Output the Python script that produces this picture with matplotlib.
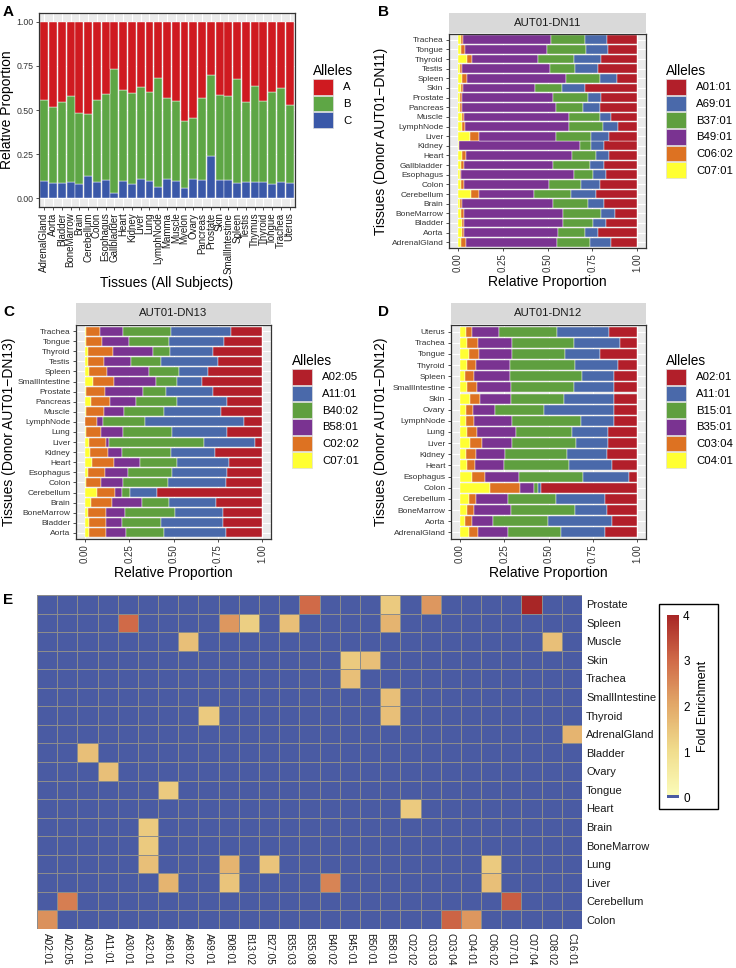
import numpy as np
import matplotlib
matplotlib.use('Agg')
import matplotlib.pyplot as plt
from matplotlib.colors import ListedColormap, LinearSegmentedColormap
from matplotlib.patches import Patch, Rectangle

plt.rcParams['font.family'] = ['Liberation Sans', 'DejaVu Sans']

W, H = 736, 968

# ---- panel A: all subjects, fraction per locus
tissues_all = ['AdrenalGland', 'Aorta', 'Bladder', 'BoneMarrow', 'Brain', 'Cerebellum', 'Colon',
               'Esophagus', 'Gallbladder', 'Heart', 'Kidney', 'Liver', 'Lung', 'LymphNode', 'Mamma',
               'Muscle', 'Myelon', 'Ovary', 'Pancreas', 'Prostate', 'Skin', 'SmallIntestine', 'Spleen',
               'Testis', 'Thymus', 'Thyroid', 'Tongue', 'Trachea', 'Uterus']
all_C = [.098, .087, .087, .089, .079, .126, .092, .104, .028, .098, .079, .108, .096, .062, .106,
         .100, .055, .108, .102, .238, .102, .102, .087, .089, .094, .090, .079, .089, .085]
all_B = [.457, .430, .458, .490, .406, .353, .463, .485, .706, .513, .515, .520, .506, .619, .460,
         .449, .381, .347, .464, .460, .481, .475, .587, .454, .540, .459, .523, .536, .445]
all_A = [.445, .483, .455, .421, .515, .521, .445, .411, .266, .389, .406, .372, .398, .319, .434,
         .451, .564, .545, .434, .302, .417, .423, .326, .457, .366, .451, .398, .375, .470]

# ---- panel B: donor AUT01-DN11 (percent, bottom -> top)
dn11_tissues = ['AdrenalGland', 'Aorta', 'Bladder', 'BoneMarrow', 'Brain', 'Cerebellum', 'Colon',
                'Esophagus', 'Gallbladder', 'Heart', 'Kidney', 'Liver', 'LymphNode', 'Muscle',
                'Pancreas', 'Prostate', 'Skin', 'Spleen', 'Testis', 'Thyroid', 'Tongue', 'Trachea']
dn11_alleles = ['C07:01', 'C06:02', 'B49:01', 'B37:01', 'A69:01', 'A01:01']
dn11_C0701 = [1.9, 2.0, 2.0, 1.7, 1.3, 7.4, 1.7, 0.9, 1.7, 2.4, 0.4, 6.5, 2.0, 2.0, 1.1, 1.3, 1.5, 2.4, 1.3, 4.8, 1.9, 1.7]
dn11_C0602 = [2.4, 1.1, 1.3, 1.9, 1.1, 4.5, 1.5, 0.7, 1.5, 1.9, 0.4, 5.0, 2.0, 1.5, 1.1, 1.1, 1.1, 2.4, 1.1, 3.0, 1.9, 1.3]
dn11_B4901 = [51.2, 52.7, 55.5, 55.3, 50.8, 30.5, 47.9, 63.1, 49.9, 59.6, 67.2, 43.4, 58.1, 58.7, 52.5, 50.7, 40.2, 55.3, 48.8, 36.7, 46.2, 49.2]
dn11_B3701 = [18.4, 15.3, 16.6, 21.0, 19.4, 20.9, 17.9, 10.4, 20.7, 13.4, 6.5, 19.6, 18.6, 16.9, 15.1, 19.6, 15.5, 19.4, 14.0, 20.5, 21.8, 19.0]
dn11_A6901 = [11.7, 7.3, 7.1, 7.8, 8.9, 13.8, 10.2, 7.3, 7.8, 7.1, 6.9, 9.9, 8.4, 6.1, 9.3, 7.4, 12.8, 9.5, 12.8, 14.7, 12.3, 12.3]
dn11_A0101 = [14.3, 21.6, 17.5, 12.3, 18.4, 22.9, 20.9, 17.5, 18.4, 15.6, 18.6, 15.6, 10.8, 14.7, 20.9, 19.9, 28.9, 11.0, 22.0, 20.3, 16.0, 16.6]

# ---- panel C: donor AUT01-DN13
dn13_tissues = ['Aorta', 'Bladder', 'BoneMarrow', 'Brain', 'Cerebellum', 'Colon', 'Esophagus', 'Heart',
                'Kidney', 'Liver', 'Lung', 'LymphNode', 'Muscle', 'Pancreas', 'Prostate',
                'SmallIntestine', 'Spleen', 'Testis', 'Thyroid', 'Tongue', 'Trachea']
dn13_alleles = ['C07:01', 'C02:02', 'B58:01', 'B40:02', 'A11:01', 'A02:05']
dn13_C0701 = [2.3, 2.4, 1.5, 3.6, 6.8, 0.6, 1.5, 4.1, 2.8, 2.1, 0.8, 0.2, 0.4, 3.4, 0.9, 4.7, 2.6, 1.7, 1.5, 0.4, 0.6]
dn13_C0202 = [9.4, 9.8, 10.3, 11.8, 10.2, 8.6, 10.0, 12.4, 10.3, 10.0, 8.1, 6.6, 10.2, 10.9, 10.3, 11.7, 9.6, 9.0, 14.1, 9.0, 7.9]
dn13_B5801 = [11.3, 8.5, 10.9, 16.7, 3.9, 12.4, 13.0, 14.5, 7.9, 1.7, 12.6, 3.2, 11.3, 14.5, 21.4, 23.7, 24.2, 15.6, 22.7, 15.2, 13.2]
dn13_B4002 = [21.6, 22.2, 28.4, 15.2, 4.5, 25.2, 24.6, 21.2, 27.4, 53.4, 27.8, 23.9, 22.7, 23.3, 13.0, 11.8, 16.9, 16.7, 9.8, 22.7, 26.9]
dn13_A1101 = [35.0, 35.0, 26.9, 26.5, 15.4, 32.7, 31.2, 29.3, 25.0, 29.1, 30.8, 55.6, 32.1, 28.0, 26.7, 14.3, 16.0, 32.0, 24.2, 31.0, 33.8]
dn13_A0205 = [20.5, 22.2, 22.0, 26.1, 59.2, 20.5, 19.7, 18.4, 26.5, 3.8, 19.9, 10.5, 23.3, 19.9, 27.6, 33.8, 30.6, 25.0, 27.6, 21.6, 17.7]

# ---- panel D: donor AUT01-DN12
dn12_tissues = ['AdrenalGland', 'Aorta', 'BoneMarrow', 'Cerebellum', 'Colon', 'Esophagus', 'Heart',
                'Kidney', 'Liver', 'Lung', 'LymphNode', 'Ovary', 'Skin', 'SmallIntestine', 'Spleen',
                'Thyroid', 'Tongue', 'Trachea', 'Uterus']
dn12_alleles = ['C04:01', 'C03:04', 'B35:01', 'B15:01', 'A11:01', 'A02:01']
dn12_C0401 = [5.1, 2.8, 3.9, 5.3, 16.9, 7.1, 4.1, 3.6, 5.5, 4.3, 3.4, 3.4, 5.8, 4.3, 3.0, 4.3, 5.3, 4.3, 3.2]
dn12_C0304 = [5.1, 3.8, 3.8, 3.9, 17.3, 7.3, 4.5, 5.3, 7.0, 5.5, 4.3, 3.9, 5.8, 5.6, 4.7, 4.7, 5.3, 6.0, 3.9]
dn12_B3501 = [16.7, 12.0, 21.1, 18.0, 7.7, 19.0, 16.2, 16.4, 16.9, 21.6, 21.4, 12.6, 17.5, 18.8, 20.5, 19.4, 18.8, 19.4, 15.0]
dn12_B1501 = [30.1, 31.0, 35.9, 27.3, 2.1, 36.3, 36.7, 35.2, 35.9, 32.1, 39.1, 27.8, 29.5, 35.5, 40.8, 36.8, 30.1, 35.0, 32.9]
dn12_A1101 = [25.2, 36.1, 18.4, 27.1, 1.9, 25.6, 24.2, 22.4, 18.0, 20.1, 18.4, 39.1, 28.6, 22.6, 18.2, 24.1, 19.4, 25.8, 28.9]
dn12_A0201 = [17.9, 14.3, 16.9, 18.4, 54.1, 4.7, 14.3, 17.3, 16.7, 16.4, 13.3, 13.2, 12.8, 13.2, 12.8, 10.7, 21.2, 9.6, 16.0]

# ---- panel E: fold enrichment heatmap (only non-zero cells listed)
hm_rows = ['Prostate', 'Spleen', 'Muscle', 'Skin', 'Trachea', 'SmallIntestine', 'Thyroid',
           'AdrenalGland', 'Bladder', 'Ovary', 'Tongue', 'Heart', 'Brain', 'BoneMarrow', 'Lung',
           'Liver', 'Cerebellum', 'Colon']
hm_cols = ['A02:01', 'A02:05', 'A03:01', 'A11:01', 'A30:01', 'A32:01', 'A68:01', 'A68:02', 'A69:01',
           'B08:01', 'B13:02', 'B27:05', 'B35:03', 'B35:08', 'B40:02', 'B45:01', 'B50:01', 'B58:01',
           'C02:02', 'C03:03', 'C03:04', 'C04:01', 'C06:02', 'C07:01', 'C07:04', 'C08:02', 'C16:01']
enrich = [('Prostate', 'B35:08', 3.0), ('Prostate', 'B58:01', 1.4), ('Prostate', 'C03:03', 2.3),
          ('Prostate', 'C07:04', 4.0),
          ('Spleen', 'A30:01', 3.0), ('Spleen', 'B08:01', 2.3), ('Spleen', 'B13:02', 1.3),
          ('Spleen', 'B35:03', 1.6), ('Spleen', 'B58:01', 1.8),
          ('Muscle', 'A68:02', 1.6), ('Muscle', 'C08:02', 1.6),
          ('Skin', 'B45:01', 1.4), ('Skin', 'B50:01', 1.6),
          ('Trachea', 'B45:01', 1.6),
          ('SmallIntestine', 'B58:01', 1.6),
          ('Thyroid', 'A69:01', 1.4), ('Thyroid', 'B58:01', 1.6),
          ('AdrenalGland', 'C16:01', 1.8),
          ('Bladder', 'A03:01', 1.6),
          ('Ovary', 'A11:01', 1.6),
          ('Tongue', 'A68:01', 1.4),
          ('Heart', 'C02:02', 1.4),
          ('Brain', 'A32:01', 1.4),
          ('BoneMarrow', 'A32:01', 1.4),
          ('Lung', 'A32:01', 1.6), ('Lung', 'B08:01', 1.8), ('Lung', 'B27:05', 1.5), ('Lung', 'C06:02', 1.4),
          ('Liver', 'A68:01', 1.8), ('Liver', 'B08:01', 1.5), ('Liver', 'B40:02', 2.6), ('Liver', 'C06:02', 1.6),
          ('Cerebellum', 'A02:05', 2.7), ('Cerebellum', 'C07:01', 3.2),
          ('Colon', 'A02:01', 2.4), ('Colon', 'C03:04', 3.1), ('Colon', 'C04:01', 2.3)]

colA = {'A': '#cf1a20', 'B': '#5ea645', 'C': '#3a58a8'}
six_cols = ['#ffff33', '#dd7222', '#7a3391', '#5f9f3f', '#4a69aa', '#b21f2a']


def fig_rect(x0, y0, x1, y1):
    return [x0 / W, 1 - y1 / H, (x1 - x0) / W, (y1 - y0) / H]


def gg(ax):
    ax.set_facecolor('#ebebeb')
    for s in ax.spines.values():
        s.set_color('#333333')
        s.set_linewidth(0.9)
    ax.tick_params(length=2.5, width=0.6, color='#333333', labelcolor='#4d4d4d', pad=1.5)
    ax.set_axisbelow(True)
    ax.grid(True, color='white', lw=0.8)


def strip(rect, text):
    sa = fig.add_axes(rect)
    sa.set_facecolor('#d9d9d9')
    sa.set_xticks([]); sa.set_yticks([])
    for s in sa.spines.values():
        s.set_visible(False)
    sa.text(0.5, 0.5, text, ha='center', va='center', fontsize=8.2, color='#1a1a1a')


def legend(x, y, labels, colors):
    hs = [Patch(facecolor=c, edgecolor='#dddddd', lw=0.5) for c in colors]
    fig.legend(hs, labels, title='Alleles', loc='upper left', bbox_to_anchor=(x / W, 1 - y / H),
               frameon=False, fontsize=8.2, title_fontsize=9.8, handlelength=1.75, handleheight=1.75,
               labelspacing=0.08, handletextpad=0.9, alignment='left', borderpad=0, borderaxespad=0)


def donor_panel(box, sbox, name, tissues, alleles, series, ylabel, ylab_px, lx, ly):
    ax = fig.add_axes(fig_rect(*box))
    gg(ax)
    y = np.arange(len(tissues))
    tot = np.sum(np.array(series), axis=0)   # position = "fill"
    left = np.zeros(len(tissues))
    for vals, c in zip(series, six_cols):
        frac = np.array(vals) / tot
        ax.barh(y, frac, left=left, height=0.9, color=c, edgecolor='white', lw=0.3)
        left += frac
    ax.set_yticks(y)
    ax.set_yticklabels(tissues, fontsize=6.0, color='#333333')
    ax.set_ylim(-0.6, len(tissues) - 0.4)
    ax.set_xlim(-0.05, 1.05)
    ax.set_xticks([0, 0.25, 0.5, 0.75, 1.0])
    ax.set_xticklabels(['0.00', '0.25', '0.50', '0.75', '1.00'], rotation=90, fontsize=7, color='#333333')
    ax.set_xlabel('Relative Proportion', fontsize=10, labelpad=2)
    ax.set_ylabel(ylabel, fontsize=10)
    # y title placed where the reference has it (right edge of the rotated text, in pixels)
    ax.yaxis.set_label_coords((ylab_px - box[0]) / (box[2] - box[0]), 0.5)
    strip(fig_rect(*sbox), name)
    # ggplot legend lists the last stacked level first
    legend(lx, ly, alleles[::-1], six_cols[::-1])


fig = plt.figure(figsize=(W / 100, H / 100), dpi=100)

# ---------------- A
axA = fig.add_axes(fig_rect(39, 13, 295, 207))
gg(axA)
x = np.arange(len(tissues_all))
axA.bar(x, all_C, 0.9, color=colA['C'], edgecolor='white', lw=0.3)
axA.bar(x, all_B, 0.9, bottom=all_C, color=colA['B'], edgecolor='white', lw=0.3)
axA.bar(x, all_A, 0.9, bottom=np.add(all_C, all_B), color=colA['A'], edgecolor='white', lw=0.3)
axA.set_xlim(-0.6, len(tissues_all) - 0.4)
axA.set_ylim(-0.05, 1.05)
axA.set_xticks(x)
axA.set_xticklabels(tissues_all, rotation=90, fontsize=7, color='#1a1a1a')
axA.set_yticks([0, 0.25, 0.5, 0.75, 1.0])
axA.set_yticklabels(['0.00', '0.25', '0.50', '0.75', '1.00'], fontsize=6.3, color='#333333')
axA.set_ylabel('Relative Proportion', fontsize=10, labelpad=2)
axA.set_xlabel('Tissues (All Subjects)', fontsize=10, labelpad=2)
legend(313, 64, ['A', 'B', 'C'], [colA['A'], colA['B'], colA['C']])

# ---------------- B, C, D
donor_panel((449, 34, 646, 248), (449, 13, 646, 33), 'AUT01-DN11', dn11_tissues,
            dn11_alleles, [dn11_C0701, dn11_C0602, dn11_B4901, dn11_B3701, dn11_A6901, dn11_A0101],
            'Tissues (Donor AUT01\u2212DN11)', 388, 666, 64)
donor_panel((76, 325, 271, 539), (76, 303, 271, 324), 'AUT01-DN13', dn13_tissues,
            dn13_alleles, [dn13_C0701, dn13_C0202, dn13_B5801, dn13_B4002, dn13_A1101, dn13_A0205],
            'Tissues (Donor AUT01\u2212DN13)', 16, 292, 354)
donor_panel((451, 325, 646, 539), (451, 303, 646, 324), 'AUT01-DN12', dn12_tissues,
            dn12_alleles, [dn12_C0401, dn12_C0304, dn12_B3501, dn12_B1501, dn12_A1101, dn12_A0201],
            'Tissues (Donor AUT01\u2212DN12)', 388, 666, 354)

# ---------------- E
mat = np.zeros((len(hm_rows), len(hm_cols)))
for t, a, v in enrich:
    mat[hm_rows.index(t), hm_cols.index(a)] = v

grad = LinearSegmentedColormap.from_list('fe', [(0, '#fbfbb8'), (0.25, '#f0dc8c'), (0.5, '#e2a868'),
                                                (0.75, '#d06a48'), (1.0, '#a82626')])
blue = '#4a5ba3'
cmap = ListedColormap([blue] * 4 + [grad(i) for i in np.linspace(0, 1, 252)])

axE = fig.add_axes(fig_rect(37, 595, 582, 929))
mesh = axE.pcolormesh(mat, cmap=cmap, vmin=0, vmax=4, edgecolors='#8c8c8c', linewidth=0.6)
axE.set_xlim(0, len(hm_cols))
axE.set_ylim(len(hm_rows), 0)
for s in axE.spines.values():
    s.set_visible(False)
axE.set_xticks(np.arange(len(hm_cols)) + 0.5)
axE.set_xticklabels(hm_cols, rotation=270, fontsize=7.2, color='#1a1a1a')
axE.set_yticks(np.arange(len(hm_rows)) + 0.5)
axE.set_yticklabels(hm_rows, fontsize=8, color='#1a1a1a')
axE.yaxis.tick_right()
axE.tick_params(length=0, pad=3)

cax = fig.add_axes(fig_rect(667, 615, 679, 798))
cb = fig.colorbar(mesh, cax=cax, ticks=[0, 1, 2, 3, 4])
cb.outline.set_visible(False)
cb.ax.tick_params(length=0, labelsize=8.5, pad=3)
cb.set_label('Fold Enrichment', fontsize=9, labelpad=5)
fig.patches.append(Rectangle((659 / W, 1 - 809 / H), 59 / W, 205 / H, transform=fig.transFigure,
                             fill=False, edgecolor='black', lw=1))

# panel letters
for lab, px, py in [('A', 3, 12), ('B', 378, 12), ('C', 3, 312), ('D', 378, 312), ('E', 3, 600)]:
    fig.text(px / W, 1 - py / H, lab, fontsize=11, fontweight='bold', va='center', ha='left')

fig.savefig('out.png', dpi=100)
